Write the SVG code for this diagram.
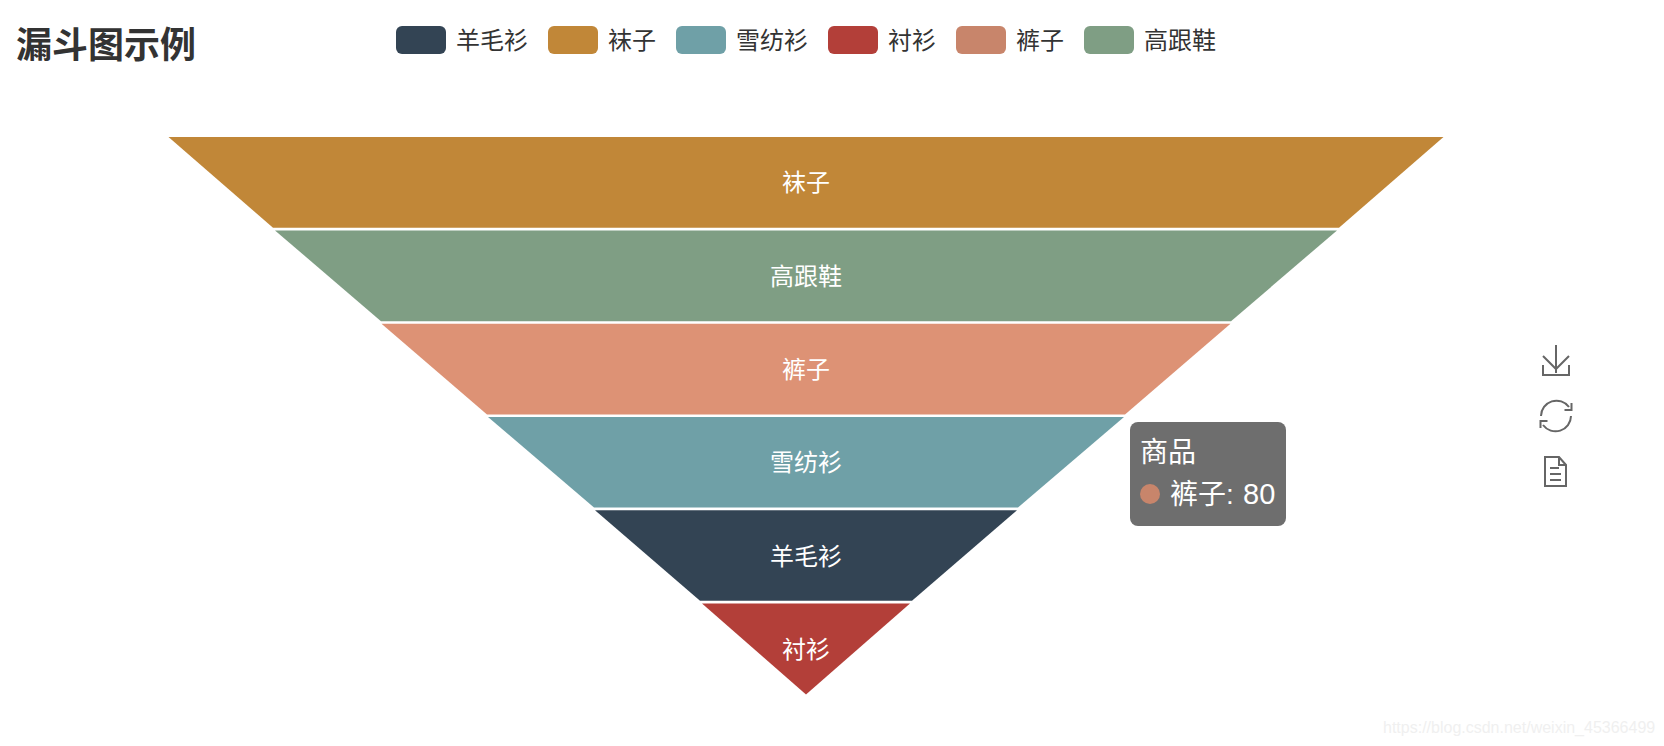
<svg xmlns="http://www.w3.org/2000/svg" width="1664" height="746" viewBox="0 0 1664 746">
<style>
text{font-family:"Liberation Sans","Noto Sans CJK SC",sans-serif}
.title{font-size:36px;font-weight:700;fill:#333}
.lg{font-size:24px;fill:#333}
.fl{font-size:24px;fill:#fff;text-anchor:middle}
.tip{font-size:28px;fill:#fff}
.ic{fill:none;stroke:#666;stroke-width:2}
</style>
<rect width="1664" height="746" fill="#fff"/>
<g id="title"><text class="title" x="16" y="57.500">漏斗图示例</text></g>
<g id="legend">
<g id="legend-1"><rect x="396" y="26" width="50" height="28" rx="6" fill="#334454"/><text class="lg" x="456" y="49">羊毛衫</text></g>
<g id="legend-2"><rect x="548" y="26" width="50" height="28" rx="6" fill="#c18738"/><text class="lg" x="608" y="49">袜子</text></g>
<g id="legend-3"><rect x="676" y="26" width="50" height="28" rx="6" fill="#6fa0a7"/><text class="lg" x="736" y="49">雪纺衫</text></g>
<g id="legend-4"><rect x="828" y="26" width="50" height="28" rx="6" fill="#b33f39"/><text class="lg" x="888" y="49">衬衫</text></g>
<g id="legend-5"><rect x="956" y="26" width="50" height="28" rx="6" fill="#c8856b"/><text class="lg" x="1016" y="49">裤子</text></g>
<g id="legend-6"><rect x="1084" y="26" width="50" height="28" rx="6" fill="#7f9e84"/><text class="lg" x="1144" y="49">高跟鞋</text></g>
</g>
<g id="funnel">
<g id="seg-wazi"><polygon fill="#c18738" points="168.500,137 1443.500,137 1339,227.800 273,227.800"/><text class="fl" x="806" y="190.700">袜子</text></g>
<g id="seg-gaogenxie"><polygon fill="#7f9e84" points="275,230.400 1337,230.400 1231,321.300 381,321.300"/><text class="fl" x="806" y="284.700">高跟鞋</text></g>
<g id="seg-kuzi"><polygon fill="#dd9275" points="381.500,323.700 1230.500,323.700 1125,414.500 487,414.500"/><text class="fl" x="806" y="377.700">裤子</text></g>
<g id="seg-xuefangshan"><polygon fill="#6fa0a7" points="488,416.900 1124,416.900 1018,507.600 594,507.600"/><text class="fl" x="806" y="470.700">雪纺衫</text></g>
<g id="seg-yangmaoshan"><polygon fill="#334454" points="595,510.200 1017,510.200 912,600.800 700,600.800"/><text class="fl" x="806" y="564.700">羊毛衫</text></g>
<g id="seg-chenshan"><polygon fill="#b33f39" points="702,603.500 910,603.500 806,694.500"/><text class="fl" x="806" y="657.700">衬衫</text></g>
</g>
<g id="tooltip">
<rect x="1130" y="422" width="156" height="104" rx="8" fill="#6e6e6e"/>
<text class="tip" x="1140" y="461.800">商品</text>
<circle cx="1150" cy="494" r="10" fill="#c8856b"/>
<text class="tip" x="1170" y="504">裤子:<tspan x="1243" font-size="29">80</tspan></text>
</g>
<g id="toolbox">
<g id="icon-save"><path class="ic" d="M1543 365V375H1569V365M1556 345V373M1543 356L1556 369L1569 356"/></g>
<g id="icon-restore"><path class="ic" d="M1541 416A15.500 15.500 0 0 1 1569 407M1571 416A15.500 15.500 0 0 1 1543 425M1571.500 403V410H1564.500M1540.500 428V421H1547.500"/></g>
<g id="icon-data"><path class="ic" d="M1545 457H1559L1566 465V486H1545ZM1559 457V465H1566M1550 468H1559M1550 474H1561M1550 480H1561"/></g>
</g>
<text id="watermark" x="1383" y="733" font-size="16" fill="#f0f0f0">https://blog.csdn.net/weixin_45366499</text>
</svg>
